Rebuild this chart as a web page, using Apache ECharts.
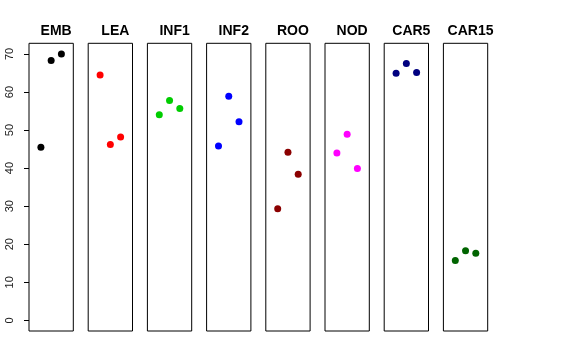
<!DOCTYPE html>
<html><head><meta charset="utf-8">
<script src="https://cdn.jsdelivr.net/npm/echarts@6/dist/echarts.min.js"></script>
<style>html,body{margin:0;padding:0;background:#fff}#c{width:576px;height:360px}</style>
</head><body><div id="c"></div>
<script>
var categories = ['EMB','LEA','INF1','INF2','ROO','NOD','CAR5','CAR15'];
var colors = ['#000000','#FF0000','#00CD00','#0000FF','#8B0000','#FF00FF','#000080','#006400'];
var xPositions = [1, 2, 3];
var EMB = [45.5, 68.3, 70.0];
var LEA = [64.5, 46.2, 48.2];
var INF1 = [54.0, 57.8, 55.7];
var INF2 = [45.8, 58.9, 52.2];
var ROO = [29.3, 44.2, 38.4];
var NOD = [44.0, 48.9, 39.9];
var CAR5 = [64.9, 67.5, 65.1];
var CAR15 = [15.7, 18.3, 17.6];
var yTickMin = 0, yTickMax = 70, yTickStep = 10;
var seriesValues = [EMB, LEA, INF1, INF2, ROO, NOD, CAR5, CAR15];

var grids = [], xAxes = [], yAxes = [], series = [], titles = [];
var panelLeft0 = 29, panelStep = 59.2, panelW = 44.3, panelTop = 43.3, panelH = 287.7;
var yMin = -2.8, yMax = 72.8;
var ppu = panelH / (yMax - yMin);
for (var i = 0; i < categories.length; i++) {
  var l = panelLeft0 + i * panelStep;
  grids.push({left: l, top: panelTop, width: panelW, height: panelH, show: true, borderColor: '#000', borderWidth: 1, backgroundColor: 'transparent'});
  xAxes.push({gridIndex: i, type: 'value', min: -0.16, max: 4.16, show: false});
  yAxes.push({gridIndex: i, type: 'value', min: yMin, max: yMax, show: false});
  series.push({type: 'scatter', xAxisIndex: i, yAxisIndex: i, symbol: 'circle', symbolSize: 7,
    itemStyle: {color: colors[i], opacity: 1},
    data: xPositions.map(function (x, j) { return [x, seriesValues[i][j]]; })
  });
  titles.push({text: categories[i], left: l + panelW / 2, top: 19, textAlign: 'center',
    textStyle: {fontSize: 14, fontWeight: 'bold', color: '#000', fontFamily: 'Liberation Sans, Arial, sans-serif'}});
}
// axis grid covering 0..70 for the left tick labels
grids.push({left: panelLeft0, top: panelTop + (yMax - yTickMax) * ppu, width: panelW, height: (yTickMax - yTickMin) * ppu, show: false});
xAxes.push({gridIndex: 8, type: 'value', min: 0, max: 1, show: false});
yAxes.push({gridIndex: 8, type: 'value', min: yTickMin, max: yTickMax, interval: yTickStep,
  splitLine: {show: false},
  axisLine: {show: false},
  axisTick: {show: true, length: 5, lineStyle: {color: '#000'}},
  axisLabel: {show: true, rotate: 90, margin: 14, color: '#222', fontSize: 11, fontFamily: 'Liberation Sans, Arial, sans-serif'}
});

var chart = echarts.init(document.getElementById('c'), null, {renderer: 'canvas'});
chart.setOption({
  animation: false,
  backgroundColor: '#fff',
  title: titles,
  grid: grids,
  xAxis: xAxes,
  yAxis: yAxes,
  series: series
});
</script></body></html>
